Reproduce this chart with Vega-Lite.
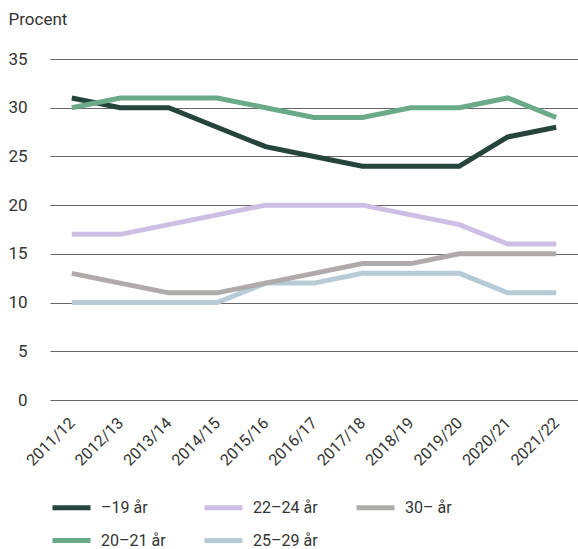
{
  "$schema": "https://vega.github.io/schema/vega-lite/v6.json",
  "width": 528,
  "height": 341,
  "autosize": {"type": "none"},
  "padding": {"left": 50, "top": 59, "right": 0, "bottom": 149},
  "background": "white",
  "config": {
    "view": {"stroke": null},
    "font": "Roboto",
    "axis": {"labelFont": "Roboto", "titleFont": "Roboto"}
  },
  "data": {
    "values": [
      {"year": "2011/12", "group": "–19 år", "value": 31},
      {"year": "2012/13", "group": "–19 år", "value": 30},
      {"year": "2013/14", "group": "–19 år", "value": 30},
      {"year": "2014/15", "group": "–19 år", "value": 28},
      {"year": "2015/16", "group": "–19 år", "value": 26},
      {"year": "2016/17", "group": "–19 år", "value": 25},
      {"year": "2017/18", "group": "–19 år", "value": 24},
      {"year": "2018/19", "group": "–19 år", "value": 24},
      {"year": "2019/20", "group": "–19 år", "value": 24},
      {"year": "2020/21", "group": "–19 år", "value": 27},
      {"year": "2021/22", "group": "–19 år", "value": 28},
      {"year": "2011/12", "group": "20–21 år", "value": 30},
      {"year": "2012/13", "group": "20–21 år", "value": 31},
      {"year": "2013/14", "group": "20–21 år", "value": 31},
      {"year": "2014/15", "group": "20–21 år", "value": 31},
      {"year": "2015/16", "group": "20–21 år", "value": 30},
      {"year": "2016/17", "group": "20–21 år", "value": 29},
      {"year": "2017/18", "group": "20–21 år", "value": 29},
      {"year": "2018/19", "group": "20–21 år", "value": 30},
      {"year": "2019/20", "group": "20–21 år", "value": 30},
      {"year": "2020/21", "group": "20–21 år", "value": 31},
      {"year": "2021/22", "group": "20–21 år", "value": 29},
      {"year": "2011/12", "group": "22–24 år", "value": 17},
      {"year": "2012/13", "group": "22–24 år", "value": 17},
      {"year": "2013/14", "group": "22–24 år", "value": 18},
      {"year": "2014/15", "group": "22–24 år", "value": 19},
      {"year": "2015/16", "group": "22–24 år", "value": 20},
      {"year": "2016/17", "group": "22–24 år", "value": 20},
      {"year": "2017/18", "group": "22–24 år", "value": 20},
      {"year": "2018/19", "group": "22–24 år", "value": 19},
      {"year": "2019/20", "group": "22–24 år", "value": 18},
      {"year": "2020/21", "group": "22–24 år", "value": 16},
      {"year": "2021/22", "group": "22–24 år", "value": 16},
      {"year": "2011/12", "group": "25–29 år", "value": 10},
      {"year": "2012/13", "group": "25–29 år", "value": 10},
      {"year": "2013/14", "group": "25–29 år", "value": 10},
      {"year": "2014/15", "group": "25–29 år", "value": 10},
      {"year": "2015/16", "group": "25–29 år", "value": 12},
      {"year": "2016/17", "group": "25–29 år", "value": 12},
      {"year": "2017/18", "group": "25–29 år", "value": 13},
      {"year": "2018/19", "group": "25–29 år", "value": 13},
      {"year": "2019/20", "group": "25–29 år", "value": 13},
      {"year": "2020/21", "group": "25–29 år", "value": 11},
      {"year": "2021/22", "group": "25–29 år", "value": 11},
      {"year": "2011/12", "group": "30– år", "value": 13},
      {"year": "2012/13", "group": "30– år", "value": 12},
      {"year": "2013/14", "group": "30– år", "value": 11},
      {"year": "2014/15", "group": "30– år", "value": 11},
      {"year": "2015/16", "group": "30– år", "value": 12},
      {"year": "2016/17", "group": "30– år", "value": 13},
      {"year": "2017/18", "group": "30– år", "value": 14},
      {"year": "2018/19", "group": "30– år", "value": 14},
      {"year": "2019/20", "group": "30– år", "value": 15},
      {"year": "2020/21", "group": "30– år", "value": 15},
      {"year": "2021/22", "group": "30– år", "value": 15}
    ]
  },
  "mark": {"type": "line", "strokeWidth": 5, "strokeJoin": "miter", "strokeCap": "butt"},
  "encoding": {
    "x": {
      "field": "year", "type": "ordinal", "sort": null,
      "scale": {"type": "point", "padding": 0.45},
      "axis": {
        "title": null, "labelAngle": -45, "labelAlign": "right", "labelBaseline": "middle",
        "labelFontSize": 16, "labelColor": "#333", "ticks": false, "domain": false,
        "labelPadding": 20, "labelDy": 5, "grid": false
      }
    },
    "y": {
      "field": "value", "type": "quantitative",
      "scale": {"domain": [0, 35], "nice": false},
      "axis": {
        "values": [0, 5, 10, 15, 20, 25, 30, 35],
        "title": "Procent", "titleAngle": 0, "titleAlign": "left", "titleBaseline": "alphabetic",
        "titleX": -42, "titleY": -35, "titleFontSize": 17, "titleFontWeight": "normal", "titleColor": "#333",
        "labelFontSize": 17, "labelColor": "#333", "labelPadding": 23, "ticks": false, "domain": false,
        "grid": true, "gridColor": "#666", "gridWidth": 1.2
      }
    },
    "color": {
      "field": "group", "type": "nominal",
      "scale": {
        "domain": ["–19 år", "22–24 år", "30– år", "20–21 år", "25–29 år"],
        "range": ["#25443c", "#cdbfe3", "#b0abab", "#6aaa88", "#b6cbd5"]
      },
      "legend": {
        "title": null, "orient": "none", "legendX": 0, "legendY": 427, "direction": "horizontal",
        "columns": 3, "gridAlign": "all", "columnPadding": 28, "rowPadding": 1,
        "symbolType": "stroke", "symbolStrokeWidth": 5, "symbolSize": 1444,
        "labelFontSize": 16, "labelColor": "#333", "labelOffset": 8, "labelLimit": 200
      }
    }
  }
}
